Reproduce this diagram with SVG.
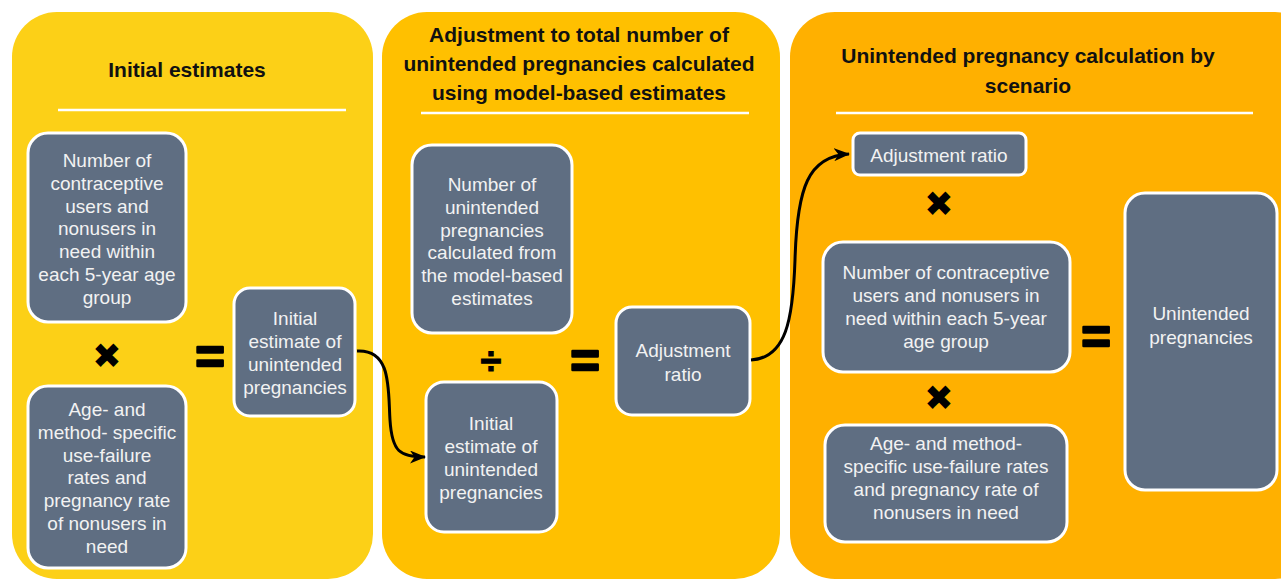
<svg xmlns="http://www.w3.org/2000/svg" width="1281" height="579" viewBox="0 0 1281 579">
<defs>
<style>
.box{fill:#5f6e82;stroke:#ffffff;stroke-width:3}
.t{font-family:"Liberation Sans",Arial,sans-serif;font-size:19px;fill:#f2f2f2;text-anchor:middle}
.h{font-family:"Liberation Sans",Arial,sans-serif;font-size:21px;font-weight:bold;fill:#111111;text-anchor:middle}
.sep{stroke:#ffffff;stroke-width:2.5}
.op{font-family:"Liberation Sans",Arial,sans-serif;font-weight:bold;fill:#000000;text-anchor:middle}
.eq{font-size:50px;stroke:#000000;stroke-width:2.6;stroke-linejoin:round}
.x{font-family:"DejaVu Sans",sans-serif;fill:#000000;text-anchor:middle;font-size:35px}
.conn{fill:none;stroke:#000000;stroke-width:3}
</style>
<marker id="ah" viewBox="0 0 16 13" refX="15" refY="6.5" markerWidth="16" markerHeight="13" markerUnits="userSpaceOnUse" orient="auto">
<path d="M0,0 L16,6.5 L0,13 L4.5,6.5 z" fill="#000000"/>
</marker>
</defs>
<rect width="1281" height="579" fill="#ffffff"/>

<g id="panel1">
<rect x="12" y="12" width="361" height="567" rx="45" fill="#fcd017"/>
<text class="h" x="187" y="77">Initial estimates</text>
<line class="sep" x1="58" y1="110" x2="346" y2="110"/>
</g>
<g id="panel2">
<rect x="382" y="12" width="398" height="567" rx="45" fill="#ffc000"/>
<text class="h" x="579" y="42">Adjustment to total number of</text>
<text class="h" x="579" y="71">unintended pregnancies calculated</text>
<text class="h" x="579" y="100">using model-based estimates</text>
<line class="sep" x1="421" y1="113" x2="749" y2="113"/>
</g>
<g id="panel3">
<rect x="790" y="12" width="530" height="567" rx="45" fill="#ffb000"/>
<text class="h" x="1028" y="63">Unintended pregnancy calculation by</text>
<text class="h" x="1028" y="93">scenario</text>
<line class="sep" x1="836" y1="113" x2="1253" y2="113"/>
</g>

<g id="nodeA">
<rect class="box" x="28" y="133" width="158" height="189" rx="20"/>
<text class="t" x="107" y="167">Number of</text>
<text class="t" x="107" y="190">contraceptive</text>
<text class="t" x="107" y="213">users and</text>
<text class="t" x="107" y="235">nonusers in</text>
<text class="t" x="107" y="258">need within</text>
<text class="t" x="107" y="281">each 5-year age</text>
<text class="t" x="107" y="304">group</text>
</g>
<g id="nodeB">
<rect class="box" x="28" y="386" width="158" height="182" rx="20"/>
<text class="t" x="107" y="416">Age- and</text>
<text class="t" x="107" y="439">method- specific</text>
<text class="t" x="107" y="462">use-failure</text>
<text class="t" x="107" y="484">rates and</text>
<text class="t" x="107" y="507">pregnancy rate</text>
<text class="t" x="107" y="530">of nonusers in</text>
<text class="t" x="107" y="553">need</text>
</g>
<g id="nodeC">
<rect class="box" x="234" y="288" width="121" height="128" rx="16"/>
<text class="t" x="295" y="325">Initial</text>
<text class="t" x="295" y="348">estimate of</text>
<text class="t" x="295" y="371">unintended</text>
<text class="t" x="295" y="394">pregnancies</text>
</g>
<g id="nodeD">
<rect class="box" x="412" y="145" width="160" height="188" rx="20"/>
<text class="t" x="492" y="191">Number of</text>
<text class="t" x="492" y="214">unintended</text>
<text class="t" x="492" y="237">pregnancies</text>
<text class="t" x="492" y="259">calculated from</text>
<text class="t" x="492" y="282">the model-based</text>
<text class="t" x="492" y="305">estimates</text>
</g>
<g id="nodeE">
<rect class="box" x="426" y="382" width="131" height="150" rx="18"/>
<text class="t" x="491" y="430">Initial</text>
<text class="t" x="491" y="453">estimate of</text>
<text class="t" x="491" y="476">unintended</text>
<text class="t" x="491" y="499">pregnancies</text>
</g>
<g id="nodeF">
<rect class="box" x="616" y="307" width="134" height="108" rx="16"/>
<text class="t" x="683" y="357">Adjustment</text>
<text class="t" x="683" y="381">ratio</text>
</g>
<g id="nodeG">
<rect class="box" x="853" y="133" width="173" height="42" rx="7"/>
<text class="t" x="939" y="162">Adjustment ratio</text>
</g>
<g id="nodeH">
<rect class="box" x="823" y="242" width="247" height="130" rx="20"/>
<text class="t" x="946" y="279">Number of contraceptive</text>
<text class="t" x="946" y="302">users and nonusers in</text>
<text class="t" x="946" y="325">need within each 5-year</text>
<text class="t" x="946" y="348">age group</text>
</g>
<g id="nodeI">
<rect class="box" x="825" y="425" width="242" height="117" rx="20"/>
<text class="t" x="946" y="450">Age- and method-</text>
<text class="t" x="946" y="473">specific use-failure rates</text>
<text class="t" x="946" y="496">and pregnancy rate of</text>
<text class="t" x="946" y="519">nonusers in need</text>
</g>
<g id="nodeJ">
<rect class="box" x="1125" y="193" width="152" height="297" rx="20"/>
<text class="t" x="1201" y="320">Unintended</text>
<text class="t" x="1201" y="344">pregnancies</text>
</g>

<g id="operators">
<text class="x" x="107" y="368">✖</text>
<text class="op eq" x="210" y="374">=</text>
<text class="op" x="491" y="374" font-size="38" stroke="#000" stroke-width="1">÷</text>
<text class="op eq" x="585" y="378">=</text>
<text class="x" x="939" y="216">✖</text>
<text class="x" x="939" y="410">✖</text>
<text class="op eq" x="1096" y="354">=</text>
</g>

<g id="connectors">
<path class="conn" marker-end="url(#ah)" d="M357,351 C 392,349 388,390 390,420 C 392,452 400,457 425,457"/>
<path class="conn" marker-end="url(#ah)" d="M751,360 C 786,358 793,320 795,260 C 797,188 808,156 849,154"/>
</g>
</svg>
